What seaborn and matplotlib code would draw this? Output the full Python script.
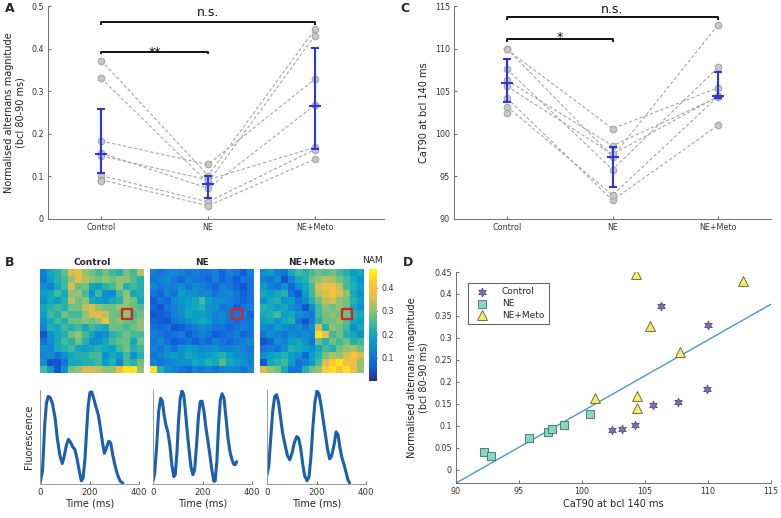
import numpy as np
import pandas as pd
import matplotlib.pyplot as plt
import seaborn as sns
from matplotlib.colors import LinearSegmentedColormap
from matplotlib.patches import Rectangle
from matplotlib.ticker import FuncFormatter

# ---- data -------------------------------------------------------------
conditions = ["Control", "NE", "NE+Meto"]
animals = [1, 2, 3, 4, 5, 6, 7, 8]

# normalised alternans magnitude (bcl 80-90 ms), one value per animal
alt_control = [0.372, 0.330, 0.183, 0.155, 0.148, 0.102, 0.092, 0.090]
alt_ne = [0.102, 0.085, 0.128, 0.072, 0.092, 0.040, 0.031, np.nan]
alt_meto = [0.445, 0.430, 0.328, 0.267, 0.168, 0.163, 0.140, np.nan]

# CaT90 at bcl 140 ms
cat_control = [106.3, 110.0, 109.9, 107.6, 105.6, 104.2, 103.2, 102.4]
cat_ne = [98.6, 97.3, 100.6, 95.8, 97.6, 92.2, 92.8, np.nan]
cat_meto = [104.3, 112.8, 105.4, 107.8, 104.4, 101.0, 104.4, np.nan]

# summary bars (centre, lower, upper) as shown
alt_center = [0.152, 0.081, 0.265]
alt_low = [0.108, 0.050, 0.164]
alt_high = [0.258, 0.100, 0.401]
cat_center = [106.0, 97.3, 104.45]
cat_low = [103.7, 93.7, 104.2]
cat_high = [108.8, 98.4, 107.25]

# NAM maps (15 x 15)
nam_control = np.array([
    [0.12, 0.20, 0.22, 0.27, 0.35, 0.37, 0.30, 0.28, 0.25, 0.28, 0.25, 0.22, 0.28, 0.25, 0.33],
    [0.10, 0.18, 0.22, 0.25, 0.30, 0.36, 0.33, 0.30, 0.28, 0.30, 0.28, 0.30, 0.30, 0.26, 0.22],
    [0.15, 0.12, 0.20, 0.25, 0.35, 0.27, 0.28, 0.20, 0.18, 0.23, 0.25, 0.30, 0.22, 0.25, 0.22],
    [0.18, 0.20, 0.25, 0.20, 0.30, 0.30, 0.25, 0.15, 0.25, 0.15, 0.14, 0.25, 0.30, 0.20, 0.22],
    [0.15, 0.20, 0.18, 0.22, 0.33, 0.28, 0.30, 0.20, 0.18, 0.16, 0.20, 0.22, 0.30, 0.28, 0.20],
    [0.20, 0.22, 0.25, 0.22, 0.28, 0.28, 0.33, 0.35, 0.30, 0.28, 0.28, 0.30, 0.30, 0.28, 0.26],
    [0.18, 0.25, 0.22, 0.28, 0.25, 0.25, 0.30, 0.35, 0.36, 0.33, 0.28, 0.27, 0.30, 0.25, 0.28],
    [0.15, 0.20, 0.25, 0.22, 0.28, 0.28, 0.30, 0.28, 0.30, 0.38, 0.28, 0.30, 0.28, 0.26, 0.30],
    [0.12, 0.22, 0.20, 0.25, 0.22, 0.25, 0.20, 0.25, 0.22, 0.20, 0.28, 0.27, 0.25, 0.28, 0.30],
    [0.05, 0.15, 0.20, 0.22, 0.28, 0.30, 0.25, 0.20, 0.12, 0.15, 0.22, 0.25, 0.28, 0.25, 0.25],
    [0.10, 0.15, 0.20, 0.25, 0.22, 0.28, 0.22, 0.15, 0.16, 0.20, 0.25, 0.27, 0.28, 0.20, 0.28],
    [0.15, 0.12, 0.20, 0.22, 0.25, 0.20, 0.18, 0.20, 0.22, 0.20, 0.18, 0.25, 0.28, 0.22, 0.25],
    [0.12, 0.15, 0.10, 0.15, 0.20, 0.22, 0.22, 0.25, 0.25, 0.15, 0.20, 0.18, 0.25, 0.15, 0.22],
    [0.15, 0.05, 0.05, 0.10, 0.20, 0.20, 0.22, 0.22, 0.25, 0.18, 0.22, 0.12, 0.25, 0.22, 0.28],
    [0.25, 0.18, 0.05, 0.15, 0.28, 0.30, 0.35, 0.35, 0.33, 0.30, 0.30, 0.38, 0.45, 0.45, 0.30],
])
nam_ne = np.array([
    [0.12, 0.10, 0.12, 0.14, 0.12, 0.10, 0.12, 0.10, 0.10, 0.12, 0.08, 0.12, 0.10, 0.06, 0.12],
    [0.10, 0.12, 0.15, 0.10, 0.08, 0.12, 0.10, 0.10, 0.08, 0.12, 0.08, 0.10, 0.06, 0.10, 0.10],
    [0.14, 0.10, 0.12, 0.12, 0.15, 0.10, 0.14, 0.12, 0.10, 0.08, 0.12, 0.10, 0.08, 0.05, 0.10],
    [0.10, 0.08, 0.12, 0.10, 0.18, 0.15, 0.15, 0.12, 0.14, 0.10, 0.12, 0.14, 0.10, 0.06, 0.10],
    [0.06, 0.10, 0.08, 0.14, 0.16, 0.18, 0.20, 0.25, 0.18, 0.15, 0.14, 0.12, 0.10, 0.08, 0.10],
    [0.08, 0.05, 0.10, 0.12, 0.15, 0.18, 0.20, 0.22, 0.16, 0.15, 0.10, 0.12, 0.06, 0.10, 0.12],
    [0.05, 0.06, 0.08, 0.12, 0.14, 0.20, 0.18, 0.18, 0.16, 0.12, 0.14, 0.10, 0.10, 0.12, 0.08],
    [0.08, 0.06, 0.05, 0.10, 0.12, 0.15, 0.18, 0.20, 0.18, 0.12, 0.14, 0.10, 0.08, 0.10, 0.10],
    [0.10, 0.08, 0.10, 0.05, 0.06, 0.10, 0.12, 0.15, 0.12, 0.10, 0.10, 0.08, 0.10, 0.12, 0.10],
    [0.12, 0.10, 0.08, 0.10, 0.12, 0.06, 0.10, 0.12, 0.10, 0.06, 0.08, 0.10, 0.12, 0.08, 0.10],
    [0.10, 0.14, 0.10, 0.06, 0.08, 0.10, 0.06, 0.10, 0.08, 0.12, 0.10, 0.08, 0.10, 0.12, 0.14],
    [0.12, 0.10, 0.14, 0.10, 0.15, 0.18, 0.16, 0.12, 0.14, 0.16, 0.12, 0.12, 0.14, 0.12, 0.10],
    [0.10, 0.12, 0.16, 0.18, 0.15, 0.20, 0.18, 0.16, 0.18, 0.20, 0.22, 0.18, 0.15, 0.14, 0.12],
    [0.12, 0.10, 0.12, 0.14, 0.16, 0.15, 0.20, 0.18, 0.22, 0.20, 0.26, 0.20, 0.18, 0.16, 0.12],
    [0.45, 0.22, 0.15, 0.12, 0.10, 0.08, 0.12, 0.10, 0.12, 0.10, 0.12, 0.14, 0.12, 0.10, 0.14],
])
nam_meto = np.array([
    [0.15, 0.18, 0.12, 0.10, 0.20, 0.25, 0.22, 0.25, 0.28, 0.26, 0.28, 0.25, 0.22, 0.18, 0.20],
    [0.12, 0.10, 0.15, 0.05, 0.12, 0.20, 0.22, 0.28, 0.30, 0.33, 0.32, 0.28, 0.25, 0.20, 0.15],
    [0.18, 0.12, 0.10, 0.15, 0.08, 0.15, 0.20, 0.25, 0.35, 0.38, 0.38, 0.33, 0.25, 0.22, 0.18],
    [0.20, 0.18, 0.20, 0.22, 0.10, 0.06, 0.18, 0.25, 0.33, 0.35, 0.40, 0.35, 0.30, 0.20, 0.15],
    [0.15, 0.20, 0.22, 0.15, 0.18, 0.10, 0.15, 0.22, 0.28, 0.33, 0.35, 0.30, 0.28, 0.22, 0.18],
    [0.22, 0.20, 0.18, 0.20, 0.15, 0.12, 0.05, 0.15, 0.25, 0.30, 0.28, 0.30, 0.28, 0.20, 0.15],
    [0.20, 0.22, 0.25, 0.18, 0.20, 0.15, 0.12, 0.10, 0.25, 0.28, 0.30, 0.28, 0.28, 0.22, 0.20],
    [0.18, 0.20, 0.15, 0.20, 0.22, 0.10, 0.05, 0.12, 0.22, 0.28, 0.28, 0.30, 0.26, 0.20, 0.18],
    [0.15, 0.12, 0.18, 0.15, 0.12, 0.15, 0.10, 0.15, 0.35, 0.22, 0.30, 0.28, 0.25, 0.15, 0.20],
    [0.10, 0.15, 0.12, 0.10, 0.15, 0.12, 0.15, 0.12, 0.45, 0.38, 0.25, 0.28, 0.22, 0.20, 0.15],
    [0.05, 0.08, 0.15, 0.12, 0.18, 0.20, 0.15, 0.10, 0.28, 0.22, 0.28, 0.25, 0.28, 0.22, 0.25],
    [0.10, 0.12, 0.10, 0.15, 0.22, 0.20, 0.18, 0.15, 0.20, 0.25, 0.22, 0.28, 0.30, 0.32, 0.28],
    [0.15, 0.18, 0.20, 0.22, 0.18, 0.15, 0.08, 0.18, 0.22, 0.28, 0.32, 0.30, 0.35, 0.40, 0.35],
    [0.05, 0.20, 0.22, 0.25, 0.18, 0.10, 0.12, 0.18, 0.25, 0.35, 0.42, 0.45, 0.40, 0.38, 0.30],
    [0.35, 0.30, 0.28, 0.20, 0.10, 0.10, 0.22, 0.28, 0.30, 0.42, 0.45, 0.40, 0.45, 0.38, 0.30],
])
roi_col, roi_row = 12, 6

# example fluorescence traces (time in ms, normalised fluorescence)
t_control = [0, 10, 19, 26, 33, 41, 50, 61, 70, 80, 90, 98, 107, 115, 123, 132, 141, 149, 159,
             167, 174, 182, 188, 195, 202, 209, 217, 226, 236, 244, 254, 260, 268, 278, 286,
             294, 304, 313, 324, 335]
f_control = [0.0, 0.125, 0.625, 0.857, 0.93, 0.92, 0.857, 0.70, 0.48, 0.30, 0.21, 0.29, 0.41,
             0.47, 0.44, 0.39, 0.36, 0.27, 0.125, 0.025, 0.05, 0.27, 0.55, 0.84, 0.975, 0.98,
             0.91, 0.82, 0.73, 0.59, 0.41, 0.32, 0.375, 0.45, 0.43, 0.30, 0.18, 0.09, 0.02, 0.0]
t_ne = [0, 7, 15, 23, 31, 38, 45, 52, 60, 68, 76, 84, 90, 97, 103, 110, 117, 124, 130, 137,
        145, 153, 161, 168, 176, 184, 191, 198, 206, 214, 222, 230, 238, 246, 251, 258, 265,
        272, 279, 287, 295, 303, 311, 319, 327, 333, 338]
f_ne = [0.02, 0.11, 0.41, 0.77, 0.91, 0.875, 0.73, 0.625, 0.55, 0.41, 0.20, 0.07, 0.09, 0.34,
        0.66, 0.91, 0.99, 0.95, 0.80, 0.59, 0.375, 0.18, 0.09, 0.14, 0.41, 0.73, 0.875, 0.88,
        0.77, 0.59, 0.45, 0.30, 0.14, 0.02, 0.02, 0.23, 0.625, 0.89, 0.96, 0.91, 0.70, 0.48,
        0.34, 0.25, 0.20, 0.20, 0.23]
t_meto = [0, 7, 15, 23, 31, 39, 47, 55, 63, 73, 82, 92, 101, 110, 120, 128, 136, 144, 152,
          162, 170, 178, 186, 194, 202, 210, 218, 226, 236, 245, 253, 261, 271, 279, 287, 295,
          303, 311, 319, 327, 334]
f_meto = [0.09, 0.18, 0.48, 0.77, 0.93, 0.95, 0.86, 0.70, 0.54, 0.41, 0.30, 0.25, 0.32, 0.43,
          0.50, 0.48, 0.375, 0.21, 0.08, 0.025, 0.07, 0.30, 0.625, 0.875, 0.99, 0.96, 0.84,
          0.70, 0.52, 0.36, 0.26, 0.29, 0.41, 0.55, 0.52, 0.375, 0.27, 0.20, 0.12, 0.035, 0.0]

# ---- style ------------------------------------------------------------
sns.set_style("ticks")
plt.rcParams["font.family"] = ["DejaVu Sans"]
plt.rcParams["xtick.direction"] = "in"
plt.rcParams["ytick.direction"] = "in"
plt.rcParams["xtick.major.size"] = 2.5
plt.rcParams["ytick.major.size"] = 2.5
plt.rcParams["axes.edgecolor"] = "#707070"
plt.rcParams["axes.linewidth"] = 0.7
plt.rcParams["xtick.color"] = "#707070"
plt.rcParams["ytick.color"] = "#707070"
plt.rcParams["xtick.labelcolor"] = "#333333"
plt.rcParams["ytick.labelcolor"] = "#333333"

# parula-like map, a bit greener through the middle
parula = LinearSegmentedColormap.from_list("parula", [
    (0.00, (0.208, 0.166, 0.529)), (0.12, (0.060, 0.360, 0.870)),
    (0.25, (0.080, 0.500, 0.840)), (0.38, (0.030, 0.630, 0.780)),
    (0.50, (0.200, 0.720, 0.630)), (0.62, (0.550, 0.760, 0.460)),
    (0.75, (0.900, 0.740, 0.280)), (0.87, (0.990, 0.770, 0.220)),
    (1.00, (0.976, 0.983, 0.054))])

W, H = 781, 518
fig = plt.figure(figsize=(W / 100, H / 100), dpi=100)


def box(l, r, t, b):
    return [l / W, 1 - b / H, (r - l) / W, (b - t) / H]


fmt = FuncFormatter(lambda v, p: f"{v:g}")
tick_fs = 5.8
lab_fs = 7

grey = "#a5a5a5"
ebar = "#3333dd"


def paired_panel(ax, vals, center, low, high, ylim, yticks, ylabel):
    df = pd.DataFrame({
        "animal": animals * 3,
        "pos": np.repeat([1, 2, 3], len(animals)),
        "val": np.concatenate(vals),
    }).dropna()
    sns.lineplot(data=df, x="pos", y="val", units="animal", estimator=None, ax=ax,
                 color=grey, lw=0.8, linestyle=(0, (3, 2)), legend=False)
    sns.scatterplot(data=df, x="pos", y="val", ax=ax, color="#c8c8c8", edgecolor=grey,
                    linewidth=0.8, s=22, zorder=3, legend=False)
    pos = np.array([1, 2, 3])
    c = np.array(center)
    ax.errorbar(pos, c, yerr=[c - np.array(low), np.array(high) - c], fmt="none",
                ecolor=ebar, elinewidth=1.5, capsize=2.8, capthick=1.5, zorder=4)
    ax.plot(pos, c, ls="none", marker="_", ms=8, mew=1.5, color=ebar, zorder=5)
    ax.set_xlim(0.5, 3.65)
    ax.set_ylim(*ylim)
    ax.set_yticks(yticks)
    ax.yaxis.set_major_formatter(fmt)
    ax.set_xticks(pos)
    ax.set_xticklabels(conditions)
    ax.tick_params(labelsize=tick_fs, pad=3)
    ax.set_xlabel("")
    ax.set_ylabel(ylabel, fontsize=lab_fs, color="#222222")
    sns.despine(ax=ax)


def bracket(ax, x0, x1, y, tick, text, ty, fs):
    ax.plot([x0, x0, x1, x1], [y - tick, y, y, y - tick], color="black", lw=1.3,
            solid_capstyle="butt", clip_on=False)
    ax.text((x0 + x1) / 2 if text == "n.s." else x0 + 0.5, ty, text, ha="center",
            va="center", fontsize=fs, color="#111111")


# ---- A ----------------------------------------------------------------
axA = fig.add_axes(box(48, 384, 6, 219))
paired_panel(axA, [alt_control, alt_ne, alt_meto], alt_center, alt_low, alt_high,
             (0, 0.5), np.arange(0, 0.51, 0.1),
             "Normalised alternans magnitude\n(bcl 80-90 ms)")
bracket(axA, 1, 3, 0.462, 0.006, "n.s.", 0.484, 9)
bracket(axA, 1, 2, 0.393, 0.006, "**", 0.392, 9)

# ---- C ----------------------------------------------------------------
axC = fig.add_axes(box(454, 771, 6, 219))
paired_panel(axC, [cat_control, cat_ne, cat_meto], cat_center, cat_low, cat_high,
             (90, 115), np.arange(90, 116, 5), "CaT90 at bcl 140 ms")
axC.set_xlim(0.5, 3.5)
bracket(axC, 1, 3, 113.7, 0.3, "n.s.", 114.55, 9)
bracket(axC, 1, 2, 111.1, 0.3, "*", 111.3, 9)

# ---- B maps -----------------------------------------------------------
map_lefts = [40, 150, 260]
cax = fig.add_axes(box(369, 377, 269, 381))
for left, nam, title in zip(map_lefts, [nam_control, nam_ne, nam_meto], conditions):
    ax = fig.add_axes(box(left, left + 104, 269, 373))
    sns.heatmap(nam, ax=ax, cmap=parula, vmin=0, vmax=0.48, cbar=(left == map_lefts[0]),
                cbar_ax=cax if left == map_lefts[0] else None,
                xticklabels=False, yticklabels=False, square=False)
    ax.add_patch(Rectangle((roi_col - 0.2, roi_row - 0.2), 1.4, 1.4, fill=False,
                           ec="#e0201c", lw=1.6, joinstyle="round", zorder=5))
    ax.set_title(title, fontsize=6.5, fontweight="bold", pad=3)
cax.set_yticks([0.1, 0.2, 0.3, 0.4])
cax.yaxis.set_major_formatter(fmt)
cax.tick_params(labelsize=tick_fs, length=2, direction="in", color="#333333")
cax.set_title("NAM", fontsize=6.5, pad=4, loc="left", x=-0.9)

# ---- B traces ---------------------------------------------------------
trace_lefts = [40, 153, 267]
trace_color = "#1a5fb0"
for i, (left, tt, ff) in enumerate(zip(trace_lefts, [t_control, t_ne, t_meto],
                                       [f_control, f_ne, f_meto])):
    ax = fig.add_axes(box(left, left + 99, 390, 484))
    sns.lineplot(x=tt, y=ff, ax=ax, color=trace_color, lw=2.2)
    ax.set_xlim(0, 400)
    ax.set_ylim(-0.01, 1.0)
    ax.set_xticks([0, 200, 400])
    ax.set_yticks([])
    ax.tick_params(labelsize=6.2, pad=3)
    ax.set_xlabel("Time (ms)", fontsize=7, labelpad=1)
    if i == 0:
        ax.set_ylabel("Fluorescence", fontsize=7)
    for s in ("left", "bottom"):
        ax.spines[s].set_color("#9a9a9a")
    sns.despine(ax=ax)

# ---- D ----------------------------------------------------------------
axD = fig.add_axes(box(456, 771, 272, 483))
axD.set_xlim(90, 115)
axD.set_ylim(-0.03, 0.45)
all_cat = np.concatenate([cat_control, cat_ne, cat_meto])
all_alt = np.concatenate([alt_control, alt_ne, alt_meto])
ok = ~np.isnan(all_cat)
sns.regplot(x=all_cat[ok], y=all_alt[ok], ax=axD, scatter=False, ci=None, truncate=False,
            line_kws=dict(color="#3a8fd0", lw=0.9))
axD.scatter(cat_control, alt_control, marker=(6, 1, 0), s=40, c="#7a6fb4",
            edgecolors="#4a4080", linewidths=0.5, label="Control", zorder=3)
axD.scatter(cat_ne, alt_ne, marker="s", s=30, c="#86d8c4", edgecolors="#3d6f68",
            linewidths=0.6, label="NE", zorder=3)
axD.scatter(cat_meto, alt_meto, marker="^", s=50, c="#f2ec70", edgecolors="#5d5a2a",
            linewidths=0.6, label="NE+Meto", zorder=3)
axD.set_xticks(np.arange(90, 116, 5))
axD.set_yticks(np.arange(0, 0.451, 0.05))
axD.yaxis.set_major_formatter(fmt)
axD.tick_params(labelsize=tick_fs, pad=3)
axD.set_xlabel("CaT90 at bcl 140 ms", fontsize=lab_fs, color="#222222", labelpad=2)
axD.set_ylabel("Normalised alternans magnitude\n(bcl 80-90 ms)", fontsize=lab_fs,
               color="#222222")
sns.despine(ax=axD)
leg = axD.legend(loc="upper left", bbox_to_anchor=(0.025, 0.97), fontsize=6.5,
                 frameon=True, fancybox=False, edgecolor="#333333", borderpad=0.5,
                 handletextpad=1.2, labelspacing=0.3)
leg.get_frame().set_linewidth(0.7)

# ---- panel letters ----------------------------------------------------
for letter, x, y in [("A", 5, 8), ("B", 5, 263), ("C", 400, 8), ("D", 403, 263)]:
    fig.text(x / W, 1 - y / H, letter, fontsize=9, fontweight="bold", va="center")

fig.savefig("out.png", dpi=100)
